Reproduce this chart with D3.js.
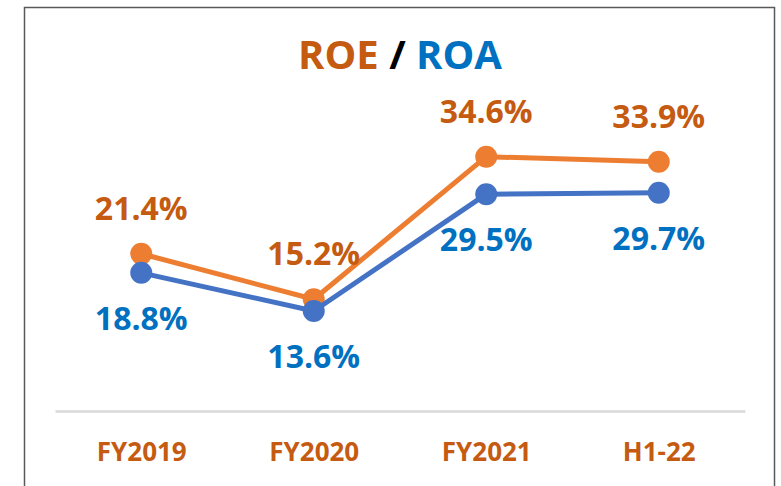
<!DOCTYPE html>
<html>
<head>
<meta charset="utf-8">
<script src="https://cdn.jsdelivr.net/npm/d3@7"></script>
<style>
  body { margin: 0; background: #fff; }
  text { font-family: "Open Sans", sans-serif; }
</style>
</head>
<body>
<div id="chart"></div>
<script>
// Data
const categories = ['FY2019', 'FY2020', 'FY2021', 'H1-22'];
const roeValues = [21.4, 15.2, 34.6, 33.9];
const roaValues = [18.8, 13.6, 29.5, 29.7];

// Dimensions
const totalWidth = 781;
const totalHeight = 486;
const margin = { top: 117, right: 36, bottom: 75, left: 55 };
const width = totalWidth - margin.left - margin.right;
const height = totalHeight - margin.top - margin.bottom;

const svg = d3.select('#chart')
    .append('svg')
    .attr('width', totalWidth)
    .attr('height', totalHeight);

// outer frame
svg.append('rect')
    .attr('x', 24.5)
    .attr('y', 7.5)
    .attr('width', 750)
    .attr('height', 500)
    .attr('fill', 'none')
    .attr('stroke', '#595959')
    .attr('stroke-width', 1.5);

// title
const title = svg.append('text')
    .attr('x', margin.left + width / 2)
    .attr('y', 69)
    .attr('text-anchor', 'middle')
    .attr('font-size', 40)
    .attr('font-weight', 'bold');
title.append('tspan').attr('fill', '#C55A11').text('ROE');
title.append('tspan').attr('fill', '#000').text(' / ');
title.append('tspan').attr('fill', '#0070C0').text('ROA');

const g = svg.append('g')
    .attr('transform', `translate(${margin.left}, ${margin.top})`);

const xScale = d3.scalePoint()
    .domain(categories)
    .range([0, width])
    .padding(0.5);

const yScale = d3.scaleLinear()
    .domain([0, 40])
    .range([height, 0]);

// x axis
const xAxis = d3.axisBottom(xScale).tickSize(0).tickPadding(32);
const axisG = g.append('g')
    .attr('transform', `translate(0, ${height})`)
    .call(xAxis);
axisG.select('.domain')
    .attr('stroke', '#D9D9D9')
    .attr('stroke-width', 2.5);
axisG.selectAll('text')
    .attr('fill', '#C55A11')
    .attr('font-size', 26)
    .attr('font-weight', 'bold')
    .attr('font-family', '"Open Sans", sans-serif');

const line = d3.line()
    .x((d, i) => xScale(categories[i]))
    .y(d => yScale(d));

const series = [
    { name: 'ROE', values: roeValues, lineColor: '#ED7D31', textColor: '#C55A11', dy: -34 },
    { name: 'ROA', values: roaValues, lineColor: '#4472C4', textColor: '#0070C0', dy: 57 }
];

series.forEach(s => {
    g.append('path')
        .datum(s.values)
        .attr('fill', 'none')
        .attr('stroke', s.lineColor)
        .attr('stroke-width', 5)
        .attr('stroke-linejoin', 'round')
        .attr('d', line);

    g.selectAll(`.dot-${s.name}`)
        .data(s.values)
        .enter()
        .append('circle')
        .attr('class', `dot-${s.name}`)
        .attr('cx', (d, i) => xScale(categories[i]))
        .attr('cy', d => yScale(d))
        .attr('r', 11)
        .attr('fill', s.lineColor);
});

series.forEach(s => {
    g.selectAll(`.label-${s.name}`)
        .data(s.values)
        .enter()
        .append('text')
        .attr('class', `label-${s.name}`)
        .attr('x', (d, i) => xScale(categories[i]))
        .attr('y', d => yScale(d) + s.dy)
        .attr('text-anchor', 'middle')
        .attr('font-size', 32)
        .attr('font-weight', 'bold')
        .attr('fill', s.textColor)
        .text(d => d.toFixed(1) + '%');
});
</script>
</body>
</html>
